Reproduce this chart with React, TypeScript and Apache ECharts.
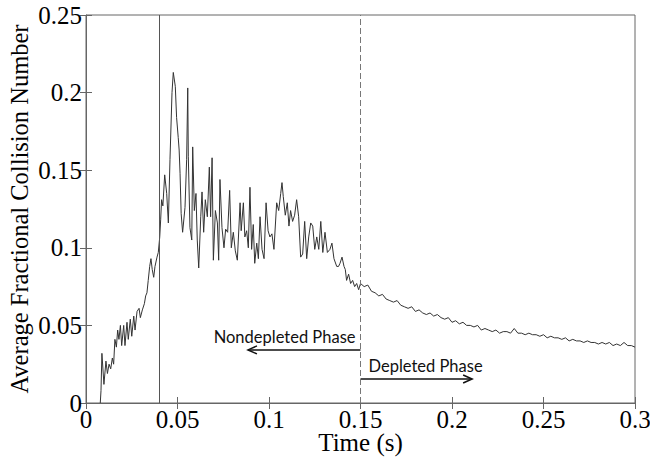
import React, { useEffect, useRef } from "react";
import * as echarts from "echarts";

// Time (s) samples of the averaged fractional collision number
const times: number[] = [
  0.0078, 0.0082, 0.0087, 0.0098, 0.0109, 0.0117, 0.0126, 0.0135, 0.0144, 0.0151,
  0.0158, 0.0166, 0.0173, 0.018, 0.0188, 0.0195, 0.0206, 0.0213, 0.0224, 0.0231,
  0.0242, 0.025, 0.0261, 0.0268, 0.0279, 0.029, 0.0297, 0.0308, 0.0319, 0.0326,
  0.0333, 0.034, 0.0348, 0.0355, 0.0362, 0.037, 0.0377, 0.0388, 0.0395, 0.0403,
  0.0408, 0.0413, 0.042, 0.043, 0.0441, 0.045, 0.0459, 0.047, 0.0477, 0.0488,
  0.0495, 0.0504, 0.0509, 0.0514, 0.052, 0.0528, 0.0541, 0.055, 0.0556, 0.0559,
  0.0568, 0.0578, 0.0583, 0.0592, 0.0601, 0.0608, 0.0616, 0.0627, 0.0634, 0.0643,
  0.0652, 0.0663, 0.0674, 0.0681, 0.0689, 0.0696, 0.0707, 0.0718, 0.0725, 0.0732,
  0.0743, 0.0754, 0.0763, 0.0774, 0.0785, 0.0794, 0.0805, 0.0816, 0.0827, 0.0842,
  0.0848, 0.086, 0.0868, 0.0878, 0.0887, 0.0896, 0.0905, 0.0914, 0.0922, 0.0933,
  0.0942, 0.0951, 0.0962, 0.0973, 0.0984, 0.0995, 0.1005, 0.1016, 0.1027, 0.1042,
  0.1053, 0.1064, 0.1071, 0.1078, 0.1089, 0.11, 0.1109, 0.1118, 0.1129, 0.114,
  0.1151, 0.1162, 0.1173, 0.1184, 0.1195, 0.1206, 0.1217, 0.1228, 0.1239, 0.125,
  0.1261, 0.1272, 0.1283, 0.1294, 0.1306, 0.1319, 0.1333, 0.1344, 0.1355, 0.137,
  0.138, 0.1388, 0.1399, 0.141, 0.1417, 0.1424, 0.1435, 0.1446, 0.1457, 0.1468,
  0.1479, 0.149,
  0.15, 0.152, 0.154, 0.156, 0.158, 0.16, 0.162, 0.164, 0.166, 0.168,
  0.17, 0.172, 0.174, 0.176, 0.178, 0.18, 0.182, 0.184, 0.186, 0.188,
  0.19, 0.192, 0.194, 0.196, 0.198, 0.2, 0.202, 0.204, 0.206, 0.208,
  0.21, 0.212, 0.214, 0.216, 0.218, 0.22, 0.222, 0.224, 0.226, 0.228,
  0.23, 0.232, 0.234, 0.236, 0.238, 0.24, 0.242, 0.244, 0.246, 0.248,
  0.25, 0.252, 0.254, 0.256, 0.258, 0.26, 0.262, 0.264, 0.266, 0.268,
  0.27, 0.272, 0.274, 0.276, 0.278, 0.28, 0.282, 0.284, 0.286, 0.288,
  0.29, 0.292, 0.294, 0.296, 0.298, 0.3,
];

const collisionNumber: number[] = [
  0.0, 0.008, 0.032, 0.012, 0.027, 0.019, 0.025, 0.022, 0.029, 0.025,
  0.041, 0.036, 0.047, 0.041, 0.05, 0.037, 0.05, 0.037, 0.052, 0.041,
  0.054, 0.043, 0.056, 0.047, 0.059, 0.061, 0.055, 0.06, 0.064, 0.069,
  0.071, 0.079, 0.088, 0.093, 0.086, 0.081, 0.088, 0.094, 0.097, 0.107,
  0.118, 0.131, 0.127, 0.147, 0.135, 0.116, 0.157, 0.2, 0.213, 0.204,
  0.184, 0.171, 0.163, 0.148, 0.122, 0.11, 0.126, 0.157, 0.203, 0.159,
  0.113, 0.105, 0.165, 0.124, 0.135, 0.105, 0.087, 0.12, 0.136, 0.11,
  0.131, 0.12, 0.152, 0.12, 0.158, 0.092, 0.124, 0.116, 0.092, 0.144,
  0.113, 0.1, 0.112, 0.11, 0.137, 0.1, 0.11, 0.098, 0.092, 0.129,
  0.111, 0.129, 0.107, 0.111, 0.1, 0.139, 0.099, 0.115, 0.09, 0.103,
  0.093, 0.12, 0.099, 0.093, 0.129, 0.111, 0.107, 0.109, 0.099, 0.129,
  0.124, 0.135, 0.142, 0.133, 0.121, 0.129, 0.114, 0.124, 0.117, 0.121,
  0.131, 0.12, 0.094, 0.096, 0.117, 0.093, 0.107, 0.116, 0.114, 0.099,
  0.107, 0.099, 0.117, 0.097, 0.11, 0.097, 0.099, 0.103, 0.093, 0.088,
  0.088, 0.09, 0.094, 0.088, 0.086, 0.079, 0.083, 0.077, 0.079, 0.075,
  0.077, 0.073,
  0.077, 0.075, 0.076, 0.072, 0.071, 0.069, 0.07, 0.067, 0.066, 0.065,
  0.066, 0.063, 0.062, 0.061, 0.062, 0.059, 0.06, 0.058, 0.057, 0.058,
  0.056, 0.057, 0.055, 0.054, 0.055, 0.052, 0.053, 0.051, 0.052, 0.05,
  0.05, 0.049, 0.05, 0.047, 0.048, 0.047, 0.046, 0.047, 0.045, 0.046,
  0.046, 0.045, 0.048, 0.045, 0.045, 0.044, 0.045, 0.044, 0.044, 0.043,
  0.044, 0.042, 0.043, 0.042, 0.042, 0.041, 0.042, 0.04, 0.041, 0.04,
  0.04, 0.039, 0.04, 0.039, 0.039, 0.038, 0.039, 0.038, 0.039, 0.037,
  0.038, 0.037, 0.039, 0.037, 0.037, 0.036,
];

// Phase boundaries (s)
const injectionTime = 0.04;
const depletionTime = 0.15;

// Annotation arrows in data coordinates: [x, y]
const nondepletedArrow: [number, number][] = [[0.15, 0.0342], [0.0885, 0.0342]];
const depletedArrow: [number, number][] = [[0.15, 0.0155], [0.211, 0.0155]];
const nondepletedLabel = "Nondepleted Phase";
const depletedLabel = "Depleted Phase";

const SERIF = "'Liberation Serif', 'Times New Roman', serif";
const SANS = "Lato, 'Open Sans', sans-serif";

export default function App() {
  const ref = useRef<HTMLDivElement>(null);

  useEffect(() => {
    if (!ref.current) return;
    const chart = echarts.init(ref.current, null, { renderer: "svg" });
    const data = times.map((t, i) => [t, collisionNumber[i]]);
    const axisColor = "#666";

    const hiddenAxisCommon = {
      type: "value" as const,
      axisLine: { show: false },
      axisTick: { show: true, inside: true, length: 6, lineStyle: { color: axisColor } },
      axisLabel: { show: false },
      splitLine: { show: false },
    };

    chart.setOption({
      animation: false,
      grid: {
        left: 86,
        top: 15,
        right: 15,
        bottom: 58,
        outerBoundsMode: "none",
        containLabel: false,
        show: true,
        borderColor: axisColor,
        borderWidth: 1,
        backgroundColor: "transparent",
      },
      xAxis: [
        {
          type: "value",
          min: 0,
          max: 0.3,
          interval: 0.05,
          position: "bottom",
          axisLine: { show: true, lineStyle: { color: axisColor } },
          axisTick: { inside: true, length: 6, lineStyle: { color: axisColor } },
          axisLabel: { color: "#000", fontFamily: SERIF, fontSize: 25, margin: 4 },
          splitLine: { show: false },
          name: "Time (s)",
          nameLocation: "middle",
          nameGap: 27,
          nameMoveOverlap: false,
          nameTextStyle: { color: "#000", fontFamily: SERIF, fontSize: 25 },
        },
        { ...hiddenAxisCommon, min: 0, max: 0.3, interval: 0.05, position: "top" },
      ],
      yAxis: [
        {
          type: "value",
          min: 0,
          max: 0.25,
          interval: 0.05,
          position: "left",
          axisLine: { show: true, lineStyle: { color: axisColor } },
          axisTick: { inside: true, length: 6, lineStyle: { color: axisColor } },
          axisLabel: { color: "#000", fontFamily: SERIF, fontSize: 25, margin: 4 },
          splitLine: { show: false },
          name: "Average Fractional Collision Number",
          nameLocation: "middle",
          nameGap: 54,
          nameMoveOverlap: false,
          nameTextStyle: { color: "#000", fontFamily: SERIF, fontSize: 24.5 },
        },
        { ...hiddenAxisCommon, min: 0, max: 0.25, interval: 0.05, position: "right" },
      ],
      series: [
        {
          type: "line",
          xAxisIndex: 0,
          yAxisIndex: 0,
          data,
          showSymbol: false,
          symbol: "none",
          lineStyle: { color: "#333", width: 1 },
          markLine: {
            silent: true,
            symbol: "none",
            label: { show: false },
            data: [
              { xAxis: injectionTime, lineStyle: { color: "#555", width: 1, type: "solid" } },
              { xAxis: depletionTime, lineStyle: { color: "#777", width: 1, type: [6, 3] } },
            ],
          },
        },
      ],
    });

    const px = (p: [number, number]) =>
      chart.convertToPixel({ gridIndex: 0 }, p) as number[];
    const arrow = (pts: [number, number][]) => {
      const a = px(pts[0]);
      const b = px(pts[1]);
      const dir = Math.sign(b[0] - a[0]);
      return [
        { type: "line", shape: { x1: a[0], y1: a[1], x2: b[0], y2: b[1] }, style: { stroke: "#111", lineWidth: 1.5 } },
        {
          type: "polyline",
          shape: { points: [[b[0] - dir * 9, b[1] - 4], [b[0], b[1]], [b[0] - dir * 9, b[1] + 4]] },
          style: { stroke: "#111", lineWidth: 1.5, fill: "none" },
        },
      ];
    };
    const nA = px(nondepletedArrow[0]);
    const dA = px(depletedArrow[0]);
    chart.setOption({
      graphic: [
        ...arrow(nondepletedArrow),
        ...arrow(depletedArrow),
        {
          type: "text",
          x: nA[0] - 5,
          y: nA[1] - 13,
          style: { text: nondepletedLabel, fill: "#111", font: `16.5px ${SANS}`, textAlign: "right", textVerticalAlign: "middle" },
        },
        {
          type: "text",
          x: dA[0] + 8,
          y: dA[1] - 13,
          style: { text: depletedLabel, fill: "#111", font: `16.5px ${SANS}`, textAlign: "left", textVerticalAlign: "middle" },
        },
      ],
    });

    return () => chart.dispose();
  }, []);

  return (
    <div
      ref={ref}
      style={{ position: "fixed", left: 0, top: 0, width: 650, height: 461, background: "#fff" }}
    />
  );
}
